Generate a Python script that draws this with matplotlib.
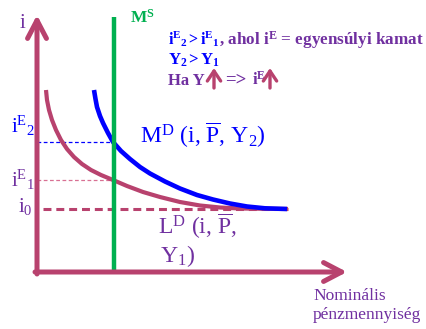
import numpy as np
import matplotlib
matplotlib.use('Agg')
import matplotlib.pyplot as plt

plt.rcParams['font.family'] = ['Liberation Serif', 'DejaVu Sans']
plt.rcParams['mathtext.fontset'] = 'custom'
plt.rcParams['mathtext.rm'] = 'Liberation Serif'
plt.rcParams['mathtext.it'] = 'Liberation Serif:italic'
plt.rcParams['mathtext.bf'] = 'Liberation Serif:bold'

crimson = '#B8426E'
purple = '#7030A0'
blue = '#0000FF'
green = '#00B050'
pink = '#D87093'

# curves (pixel-like units, y grows downward)
md_x = [94, 95.5, 97, 100, 103, 108, 113, 121, 130, 140, 150, 165, 180, 197, 213, 230, 247, 265, 287]
md_y = [90, 99, 107, 116, 123, 133, 142, 151, 159, 167, 173.5, 181.5, 188.5, 195, 199.5, 203.5, 206.5, 208.3, 209]
ld_x = [46, 47, 49, 52, 56, 61, 67, 74, 82, 91, 101, 113, 127, 143, 160, 180, 200, 220, 240, 288]
ld_y = [90, 100, 110, 120, 130, 140, 149, 157, 164, 170, 175, 180, 186, 192, 197, 202, 205.5, 207.5, 208.5, 209]

ms_x = 114
i_e2 = 142
i_e1 = 180
i_0 = 209
origin = (37, 272)
x_end = 347
y_end = 15

fig = plt.figure(figsize=(4.26, 3.29), dpi=100)
ax = fig.add_axes([0, 0, 1, 1])
ax.set_xlim(0, 426)
ax.set_ylim(329, 0)
ax.axis('off')

head = '->,head_length=0.65,head_width=0.34'
# axes with arrows
ax.annotate('', xy=(origin[0], y_end), xytext=(origin[0], origin[1] + 2),
            arrowprops=dict(arrowstyle=head, lw=3.6, color=crimson,
                            mutation_scale=20, shrinkA=0, shrinkB=0))
ax.annotate('', xy=(x_end, origin[1]), xytext=(origin[0] - 2, origin[1]),
            arrowprops=dict(arrowstyle=head, lw=3.6, color=crimson,
                            mutation_scale=20, shrinkA=0, shrinkB=0))

# guide lines
ax.plot([origin[0], ms_x], [i_e2, i_e2], color=blue, lw=0.9, ls=(0, (3, 2)))
ax.plot([origin[0], ms_x], [i_e1, i_e1], color=pink, lw=0.9, ls=(0, (3, 2)))
ax.plot([43, 288], [i_0, i_0], color=crimson, lw=2.2, ls=(0, (2.6, 1.6)))

ax.plot(ld_x, ld_y, color=crimson, lw=3.0, solid_capstyle='butt')
ax.plot(md_x, md_y, color=blue, lw=3.3, solid_capstyle='butt')
ax.plot([ms_x, ms_x], [17, origin[1]], color=green, lw=3.2, solid_capstyle='butt')

# labels
ax.text(22, 28, 'i', color=purple, fontsize=15, ha='center', va='baseline')
ax.text(35, 133, r'$\mathrm{i^{E}{}_{2}}$', color=blue, fontsize=15, ha='right', va='baseline')
ax.text(35, 187, r'$\mathrm{i^{E}{}_{1}}$', color=purple, fontsize=15, ha='right', va='baseline')
ax.text(33, 212, r'$\mathrm{i_{0}}$', color=purple, fontsize=15, ha='right', va='baseline')

ax.text(130, 23, r'$\mathbf{M^{S}}$', color=green, fontsize=12.5, va='baseline')

ax.text(140, 143, r'M$^{\mathrm{D}}$ (i, $\overline{\mathrm{P}}$, Y$_{2}$)',
        color=blue, fontsize=17, va='baseline')
ax.text(158, 234, r'L$^{\mathrm{D}}$ (i, $\overline{\mathrm{P}}$,',
        color=purple, fontsize=17, va='baseline')
ax.text(160, 262, r'Y$_{1}$)', color=purple, fontsize=17, va='baseline')

ax.text(313, 300, 'Nominális', color=purple, fontsize=12.5, va='baseline')
ax.text(313, 319, 'pénzmennyiség', color=purple, fontsize=12.5, va='baseline')

# note block
ax.text(168, 45, r'$\mathbf{i^{E}{}_{2} > i^{E}{}_{1}}$', color=blue,
        fontsize=11.5, va='baseline')
ax.text(219, 45, r', ahol $\mathbf{i^{E}}$ = egyensúlyi kamat', color=purple,
        fontsize=12.3, fontweight='bold', va='baseline')
ax.text(168, 65, r'$\mathbf{Y_{2} > Y_{1}}$', color=blue, fontsize=12, va='baseline')
ax.text(168, 85, 'Ha Y', color=purple, fontsize=12, fontweight='bold', va='baseline')
ax.text(225, 85, '=>', color=purple, fontsize=13.5, fontweight='bold', va='baseline')
ax.text(252, 85, r'$\mathbf{i^{E}}$', color=purple, fontsize=12, va='baseline')
for ax_x in (214, 270):
    ax.annotate('', xy=(ax_x, 68), xytext=(ax_x, 88),
                arrowprops=dict(arrowstyle='->,head_length=0.45,head_width=0.3',
                                lw=2.4, color=crimson, mutation_scale=16,
                                shrinkA=0, shrinkB=0))

plt.savefig('out.png', dpi=100)
